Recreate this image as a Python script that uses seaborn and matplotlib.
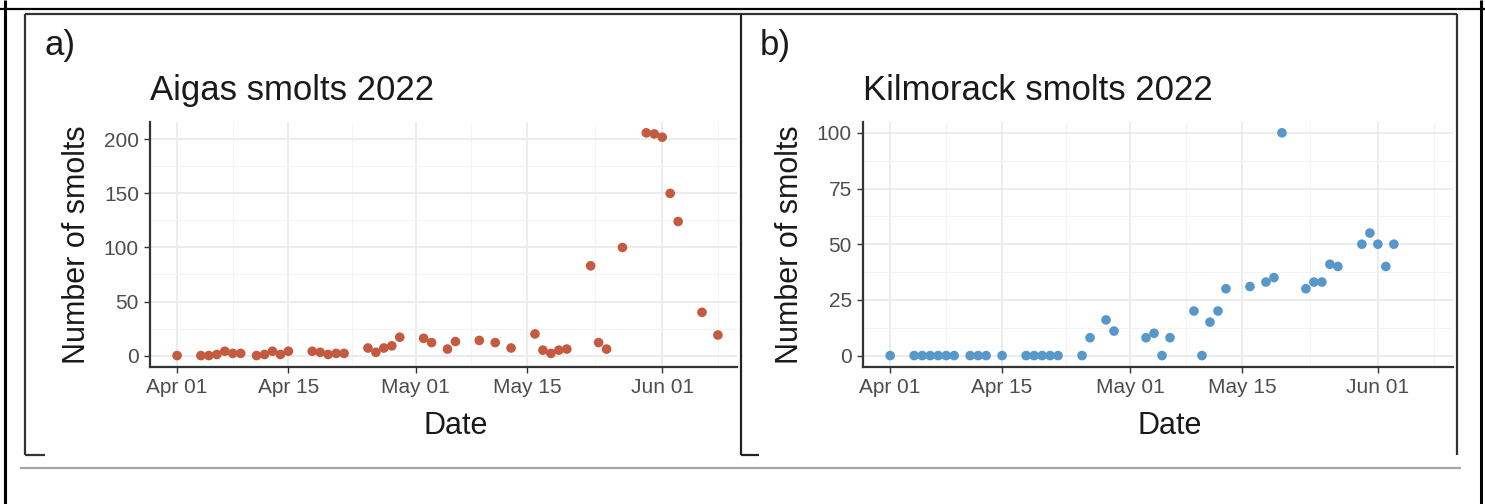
import pandas as pd
import seaborn as sns
import matplotlib.pyplot as plt
import matplotlib.dates as mdates
from matplotlib.lines import Line2D

# Données (jours depuis le 1er avril 2022)
aigas_day = [0, 3, 4, 5, 6, 7, 8, 10, 11, 12, 13, 14, 17, 18, 19, 20, 21,
             24, 25, 26, 27, 28, 31, 32, 34, 35, 38, 40, 42, 45, 46, 47, 48, 49,
             52, 53, 54, 56, 59, 60, 61, 62, 63, 66, 68]
aigas_n = [0, 0, 0, 1, 4, 2, 2, 0, 1, 4, 1, 4, 4, 3, 1, 2, 2,
           7, 3, 7, 9, 17, 16, 12, 6, 13, 14, 12, 7, 20, 5, 2, 5, 6,
           83, 12, 6, 100, 206, 205, 202, 150, 124, 40, 19]

kil_day = [0, 3, 4, 5, 6, 7, 8, 10, 11, 12, 14, 17, 18, 19, 20, 21,
           24, 25, 27, 28, 32, 33, 34, 35, 38, 39, 40, 41, 42, 45, 47, 48, 49,
           52, 53, 54, 55, 56, 59, 60, 61, 62, 63]
kil_n = [0, 0, 0, 0, 0, 0, 0, 0, 0, 0, 0, 0, 0, 0, 0, 0,
         0, 8, 16, 11, 8, 10, 0, 8, 20, 0, 15, 20, 30, 31, 33, 35, 100,
         30, 33, 33, 41, 40, 50, 55, 50, 40, 50]

start = pd.Timestamp("2022-04-01")
major_dates = pd.to_datetime(["2022-04-01", "2022-04-15", "2022-05-01", "2022-05-15", "2022-06-01"])
minor_dates = pd.to_datetime(["2022-04-08 00:00", "2022-04-23 00:00", "2022-05-08 00:00",
                              "2022-05-23 12:00", "2022-06-08 00:00"])

df_a = pd.DataFrame({"Date": start + pd.to_timedelta(aigas_day, unit="D"), "n": aigas_n})
df_k = pd.DataFrame({"Date": start + pd.to_timedelta(kil_day, unit="D"), "n": kil_n})

sns.set_theme(style="white")
plt.rcParams['font.family'] = ['Liberation Sans', 'DejaVu Sans']

fig = plt.figure(figsize=(14.85, 5.04), dpi=100)
W, H = 1485, 504


def add_axes(x0, x1, y0, y1):
    return fig.add_axes([x0 / W, 1 - y1 / H, (x1 - x0) / W, (y1 - y0) / H])


ax1 = add_axes(150, 737, 121.7, 366.7)
ax2 = add_axes(863, 1453, 121.7, 366.7)

panels = [
    (ax1, df_a, "#C45A3E", "Aigas smolts 2022", (-10.3, 216.3), [0, 50, 100, 150, 200], [25, 75, 125, 175]),
    (ax2, df_k, "#5797C9", "Kilmorack smolts 2022", (-5, 105), [0, 25, 50, 75, 100], [12.5, 37.5, 62.5, 87.5]),
]

for ax, df, col, title, ylim, yt, ytm in panels:
    sns.scatterplot(data=df, x="Date", y="n", ax=ax, color=col, s=48,
                    edgecolor="none", zorder=3)
    ax.set_xlim(start - pd.Timedelta(days=3.4), start + pd.Timedelta(days=70.4))
    ax.set_ylim(*ylim)
    ax.set_xticks(major_dates)
    ax.set_xticks(minor_dates, minor=True)
    ax.set_yticks(yt)
    ax.set_yticks(ytm, minor=True)
    ax.xaxis.set_major_formatter(mdates.DateFormatter("%b %d"))
    ax.grid(True, which="major", color="#EBEBEB", linewidth=1.3)
    ax.grid(True, which="minor", color="#F4F4F4", linewidth=0.8)
    ax.set_axisbelow(True)
    for sp in ["top", "right"]:
        ax.spines[sp].set_visible(False)
    for sp in ["left", "bottom"]:
        ax.spines[sp].set_color("#333333")
        ax.spines[sp].set_linewidth(1.6)
    ax.tick_params(axis="both", which="major", length=4, width=1, color="#333333",
                   labelsize=15, labelcolor="#4D4D4D", pad=4,
                   bottom=True, left=True)
    ax.tick_params(which="minor", length=0)
    ax.set_xlabel("Date", fontsize=22, color="#1A1A1A")
    ax.set_ylabel("Number of smolts", fontsize=22, color="#1A1A1A")
    ax.xaxis.set_label_coords(0.52, -0.18)
    ax.yaxis.set_label_coords(-0.098, 0.5)
    ax.text(0, 1.09, title, transform=ax.transAxes, fontsize=25, va="baseline",
            ha="left", color="#1A1A1A")

# étiquettes des panneaux
fig.text(45 / W, 1 - 55 / H, "a)", fontsize=25, va="baseline", color="#1A1A1A")
fig.text(760 / W, 1 - 55 / H, "b)", fontsize=25, va="baseline", color="#1A1A1A")


def seg(x0, y0, x1, y1, color="black", lw=2.0):
    fig.add_artist(Line2D([x0 / W, x1 / W], [1 - y0 / H, 1 - y1 / H],
                          transform=fig.transFigure, color=color, lw=lw,
                          solid_capstyle="butt"))


# cadre du tableau du document
seg(0, 9, W, 9, lw=1.6)
seg(5, 0, 5, H, lw=2.2)
seg(1481, 0, 1481, H, lw=2.2)
# cadres des figures
seg(25, 14, 1457, 14, color="#333333", lw=1.6)
seg(25, 14, 25, 455, color="#333333", lw=1.6)
seg(25, 455, 45, 455, color="#333333", lw=1.6)
seg(741, 14, 741, 455, color="#222222", lw=1.6)
seg(741, 455, 759, 455, color="#222222", lw=1.6)
seg(1457, 14, 1457, 455, color="#333333", lw=1.6)
# ligne grise
seg(20, 468, 1461, 468, color="#A6A6A6", lw=1.6)

fig.savefig("out.png", dpi=100)
